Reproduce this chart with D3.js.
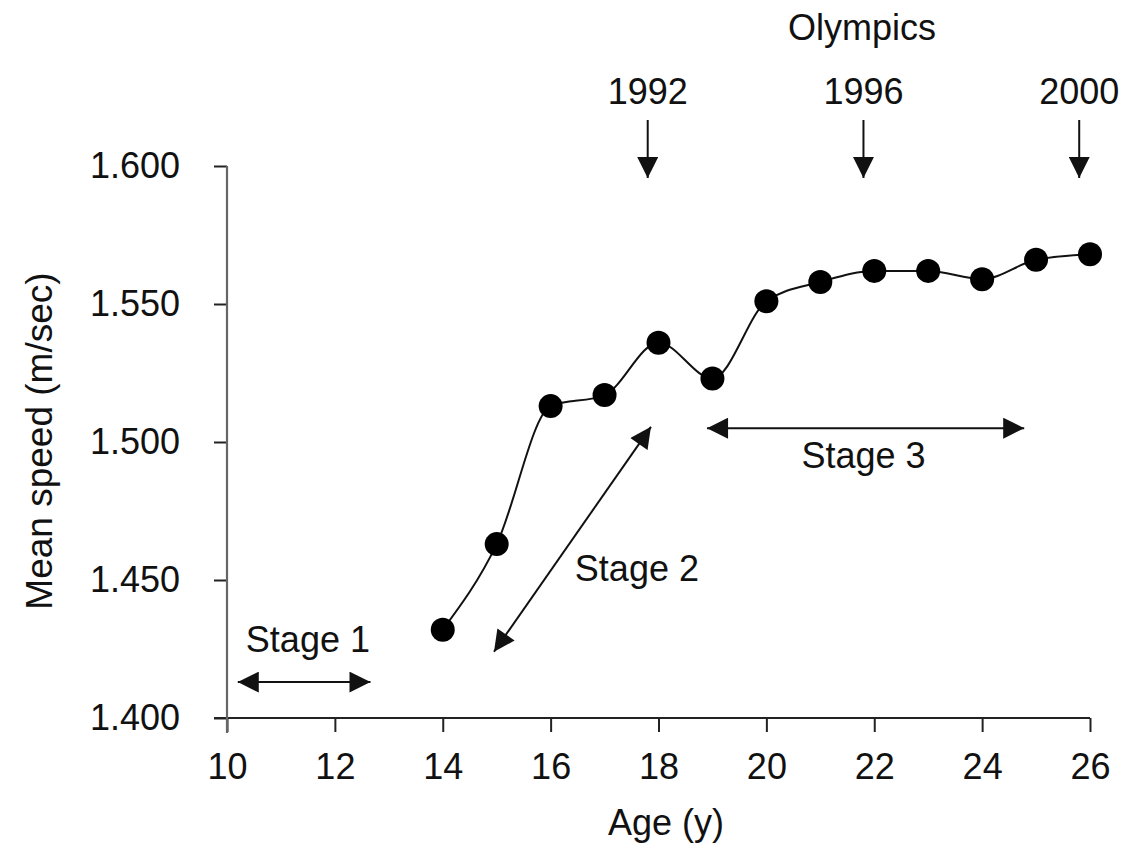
<!DOCTYPE html>
<html>
<head>
<meta charset="utf-8">
<script src="https://cdn.jsdelivr.net/npm/d3@7"></script>
<style>
  body { margin: 0; background: #fff; }
  text { font-family: "Liberation Sans", Arial, sans-serif; fill: #111; }
</style>
</head>
<body>
<div class="chart"></div>
<script>
// data
var ages = [14, 15, 16, 17, 18, 19, 20, 21, 22, 23, 24, 25, 26];
var speeds = [1.432, 1.463, 1.513, 1.517, 1.536, 1.523, 1.551, 1.558, 1.562, 1.562, 1.559, 1.566, 1.568];
var xTicks = [10, 12, 14, 16, 18, 20, 22, 24, 26];
var yTicks = [1.400, 1.450, 1.500, 1.550, 1.600];
var olympicYears = ["1992", "1996", "2000"];
var olympicAges = [17.8, 21.8, 25.8];
var stageLabels = ["Stage 1", "Stage 2", "Stage 3"];

var svgWidth = 1134;
var svgHeight = 845;

var svg = d3.select(".chart")
  .append("svg")
  .attr("width", svgWidth)
  .attr("height", svgHeight);

var x = d3.scaleLinear().domain([10, 26]).range([227, 1090]);
var y = d3.scaleLinear().domain([1.4, 1.6]).range([718, 166]);

// arrow head marker
svg.append("defs").append("marker")
  .attr("id", "head")
  .attr("viewBox", "0 0 10 10")
  .attr("refX", 10)
  .attr("refY", 5)
  .attr("markerUnits", "userSpaceOnUse")
  .attr("markerWidth", 22)
  .attr("markerHeight", 21)
  .attr("orient", "auto-start-reverse")
  .append("path")
  .attr("d", "M0,0 L10,5 L0,10 Z")
  .attr("fill", "#111");

// axes
var xAxis = svg.append("g")
  .attr("transform", "translate(0," + y(1.4) + ")")
  .call(d3.axisBottom(x).tickValues(xTicks).tickSize(14).tickPadding(21).tickFormat(d3.format("d")));
xAxis.select(".domain").remove();
xAxis.append("line")
  .attr("x1", 214).attr("x2", x(26))
  .attr("stroke", "#222").attr("stroke-width", 2);

var yAxis = svg.append("g")
  .attr("transform", "translate(" + x(10) + ",0)")
  .call(d3.axisLeft(y).tickValues(yTicks).tickSize(13).tickPadding(34).tickFormat(d3.format(".3f")));
yAxis.select(".domain").remove();
yAxis.append("line")
  .attr("y1", y(1.6)).attr("y2", y(1.4) + 15)
  .attr("stroke", "#666").attr("stroke-width", 2.2);

svg.selectAll(".tick line").attr("stroke", "#222").attr("stroke-width", 2);
svg.selectAll(".tick text").style("font-size", "36px").attr("fill", "#111");

// axis titles
svg.append("text")
  .attr("x", 666).attr("y", 835)
  .attr("text-anchor", "middle")
  .style("font-size", "36px")
  .text("Age (y)");

svg.append("text")
  .attr("transform", "translate(52,441) rotate(-90)")
  .attr("text-anchor", "middle")
  .style("font-size", "37px")
  .text("Mean speed (m/sec)");

// data line + points
var pts = ages.map(function (a, i) { return [a, speeds[i]]; });
var line = d3.line()
  .x(function (d) { return x(d[0]); })
  .y(function (d) { return y(d[1]); })
  .curve(d3.curveMonotoneX);

svg.append("path")
  .datum(pts)
  .attr("d", line)
  .attr("fill", "none")
  .attr("stroke", "#111")
  .attr("stroke-width", 2);

svg.selectAll("circle")
  .data(pts)
  .enter()
  .append("circle")
  .attr("cx", function (d) { return x(d[0]); })
  .attr("cy", function (d) { return y(d[1]); })
  .attr("r", 12)
  .attr("fill", "#000");

// Olympics annotation
svg.append("text")
  .attr("x", 862).attr("y", 40)
  .attr("text-anchor", "middle")
  .style("font-size", "36px")
  .text("Olympics");

olympicYears.forEach(function (yr, i) {
  var cx = x(olympicAges[i]);
  svg.append("text")
    .attr("x", cx).attr("y", 104)
    .attr("text-anchor", "middle")
    .style("font-size", "36px")
    .text(yr);
  svg.append("line")
    .attr("x1", cx).attr("x2", cx)
    .attr("y1", 120).attr("y2", 178)
    .attr("stroke", "#111").attr("stroke-width", 2)
    .attr("marker-end", "url(#head)");
});

// stage arrows (age, speed pairs)
var stageArrows = [
  [[10.2, 1.413], [12.66, 1.413]],
  [[14.95, 1.424], [17.86, 1.5055]],
  [[18.9, 1.505], [24.78, 1.505]]
];
var stageTextPos = [[11.5, 1.424], [17.6, 1.4495], [21.8, 1.4905]];

stageArrows.forEach(function (a) {
  svg.append("line")
    .attr("x1", x(a[0][0])).attr("y1", y(a[0][1]))
    .attr("x2", x(a[1][0])).attr("y2", y(a[1][1]))
    .attr("stroke", "#111").attr("stroke-width", 2)
    .attr("marker-start", "url(#head)")
    .attr("marker-end", "url(#head)");
});

svg.selectAll(".stage")
  .data(stageLabels)
  .enter()
  .append("text")
  .attr("class", "stage")
  .attr("x", function (d, i) { return x(stageTextPos[i][0]); })
  .attr("y", function (d, i) { return y(stageTextPos[i][1]); })
  .attr("text-anchor", "middle")
  .style("font-size", "36px")
  .text(function (d) { return d; });
</script>
</body>
</html>
